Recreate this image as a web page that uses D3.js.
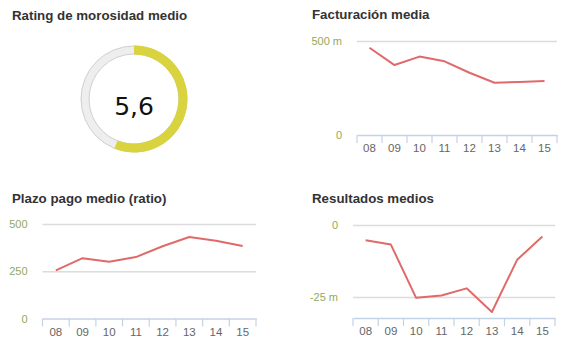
<!DOCTYPE html>
<html><head><meta charset="utf-8">
<script src="https://cdn.jsdelivr.net/npm/d3@7"></script>
<style>
body{margin:0;background:#fff;}
svg{display:block;font-family:"Liberation Sans",Arial,sans-serif;}
</style></head>
<body><svg id="c" width="570" height="359"></svg>
<script>
const years = ["08","09","10","11","12","13","14","15"];
const ratingValue = 5.6;
const ratingMax = 10;
const ratingLabel = "5,6";
const facturacion = [464, 372, 417, 392, 331, 278, 282, 287];
const facturacionTicks = [0, 500];
const facturacionTickLabels = ["0", "500 m"];
const plazo = [255, 319, 300, 325, 382, 431, 411, 384];
const plazoTicks = [0, 250, 500];
const plazoTickLabels = ["0", "250", "500"];
const resultados = [-5.3, -6.8, -25.3, -24.5, -22.0, -30.2, -12.1, -4.0];
const resultadosTicks = [-25, 0];
const resultadosTickLabels = ["-25 m", "0"];
const titles = ["Rating de morosidad medio","Facturación media","Plazo pago medio (ratio)","Resultados medios"];

const svg = d3.select("#c");
const LINE = "#e06a6a", GRID = "#dcdcdc", AXIS = "#c3d3e6", YLAB = "#93a85e", XLAB = "#666";

function title(x, y, t){
  svg.append("text").attr("x",x).attr("y",y).text(t)
    .attr("font-size","13.3px").attr("font-weight","bold").attr("fill","#333");
}
title(12,20,titles[0]); title(312,19,titles[1]); title(12,202.5,titles[2]); title(312,203,titles[3]);

// Donut
const cx=134, cy=99;
const dg = svg.append("g").attr("transform",`translate(${cx},${cy})`);
const arc = d3.arc().innerRadius(45).outerRadius(53);
dg.append("path").attr("d",arc({startAngle:0,endAngle:2*Math.PI}))
  .attr("fill","#eeeeee").attr("stroke","#cfcfcf").attr("stroke-width",1);
const ang = d3.scaleLinear().domain([0,ratingMax]).range([0,2*Math.PI]);
dg.append("path").attr("d",d3.arc().innerRadius(44.5).outerRadius(53.5)({startAngle:0,endAngle:ang(ratingValue)}))
  .attr("fill","#d9d33f");
dg.append("text").attr("x",0).attr("y",16).attr("text-anchor","middle")
  .attr("font-family","'DejaVu Sans',sans-serif").attr("font-size","25px").attr("fill","#111").text(ratingLabel);

function panel(opts){
  const {x0,x1,yDomain,yRange,values,ticks,tickLabels,grid} = opts;
  const x = d3.scaleBand().domain(years).range([x0,x1]).padding(0);
  const y = d3.scaleLinear().domain(yDomain).range(yRange);
  const g = svg.append("g");
  // gridlines
  const gy = g.append("g").attr("transform",`translate(${x0},0)`)
    .call(d3.axisLeft(y).tickValues(grid).tickSize(-(x1-x0)).tickFormat(""));
  gy.select(".domain").remove();
  gy.selectAll("line").attr("stroke",GRID).attr("stroke-width",1.5);
  // y labels
  const yl = g.append("g").attr("transform",`translate(${x0},0)`)
    .call(d3.axisLeft(y).tickValues(ticks).tickSize(0).tickPadding(15)
      .tickFormat((d,i)=>tickLabels[i]));
  yl.select(".domain").remove();
  yl.selectAll("text").attr("fill",YLAB).attr("font-size","11px").attr("font-family","'Liberation Sans',Arial,sans-serif");
  // x axis
  const yb = y.range()[0];
  const xa = g.append("g").attr("transform",`translate(0,${yb})`)
    .call(d3.axisBottom(x).tickSize(0).tickPadding(9));
  xa.select(".domain").attr("stroke",AXIS).attr("stroke-width",1.5);
  xa.selectAll("text").attr("fill",XLAB).attr("font-size","11.5px").attr("font-family","'Liberation Sans',Arial,sans-serif");
  const bounds = years.map(c=>x(c)).concat([x.range()[1]]);
  g.append("g").selectAll("line").data(bounds).join("line")
    .attr("x1",d=>d).attr("x2",d=>d).attr("y1",yb).attr("y2",yb+8)
    .attr("stroke",AXIS).attr("stroke-width",1.2);
  // line
  const line = d3.line().x((d,i)=>x(years[i])+x.bandwidth()/2).y(d=>y(d));
  g.append("path").datum(values).attr("d",line).attr("fill","none")
    .attr("stroke",LINE).attr("stroke-width",2).attr("stroke-linejoin","round");
}

panel({x0:357,x1:557,yDomain:[0,500],yRange:[135,41],values:facturacion,ticks:facturacionTicks,tickLabels:facturacionTickLabels,grid:[500]});
panel({x0:42.5,x1:256,yDomain:[0,500],yRange:[318.5,224],values:plazo,ticks:plazoTicks,tickLabels:plazoTickLabels,grid:[250,500]});
panel({x0:353,x1:555,yDomain:[-32.3,0],yRange:[318,225],values:resultados,ticks:resultadosTicks,tickLabels:resultadosTickLabels,grid:[-25,0]});
</script></body></html>
